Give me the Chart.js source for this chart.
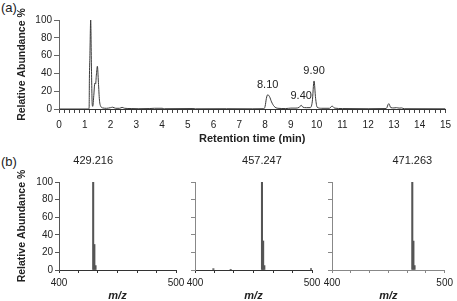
<!DOCTYPE html>
<html>
<head>
<meta charset="UTF-8" />
<title>LC-MS chromatogram</title>
<script src="https://cdn.jsdelivr.net/npm/chart.js"></script>
<style>
  body { margin: 0; background: #fff; font-family: "Liberation Sans", Arial, sans-serif; }
  #wrap { position: relative; width: 457px; height: 301px; overflow: hidden; }
  canvas { position: absolute; }
  .tag { position: absolute; font-size: 13px; color: #222; }
</style>
</head>
<body>
<div id="wrap">
  <div class="tag" style="left:1px;top:0px;">(a)</div>
  <div class="tag" style="left:1px;top:154px;">(b)</div>
  <canvas id="chrom" width="457" height="150" style="left:0;top:0;"></canvas>
  <canvas id="ms1" width="200" height="151" style="left:0;top:150px;"></canvas>
  <canvas id="ms2" width="160" height="151" style="left:170px;top:150px;"></canvas>
  <canvas id="ms3" width="147" height="151" style="left:310px;top:150px;"></canvas>
</div>

<script>
// chromatogram (retention time in min, relative abundance %)
const rtTimes = [0, 1.15, 1.17, 1.18, 1.2, 1.23, 1.26, 1.29, 1.31, 1.35, 1.39, 1.42, 1.45, 1.49, 1.53, 1.57, 1.62,
  1.7, 1.85, 2.0, 2.08, 2.2, 2.35, 2.45, 2.55, 2.8, 3.1, 3.5, 3.7, 4.0, 4.1, 5.2, 5.3, 6.5, 7.5,
  7.95, 8.0, 8.05, 8.1, 8.17, 8.25, 8.35, 8.5, 8.8, 9.0, 9.2, 9.33, 9.4, 9.47, 9.6, 9.75, 9.83, 9.9, 9.96,
  10.02, 10.2, 10.5, 10.6, 10.7, 11.0, 12.0, 12.7, 12.8, 12.88, 13.0, 13.1, 13.2, 13.3, 13.4, 15];
const rtAbund = [0, 0, 2, 34, 60, 100, 45, 5, 3, 15, 29, 28, 38, 48, 30, 10, 3,
  1.2, 0.8, 1.5, 2, 0.8, 0.8, 1.8, 0.8, 0.5, 0.3, 0.5, 0.8, 0.8, 0.3, 0.5, 0.2, 0.3, 0.2,
  0.3, 3, 12, 16, 14, 8, 3, 0.8, 0.5, 1, 1, 2, 4.2, 2, 1.5, 1.5, 8, 31.5, 12,
  2, 0.8, 0.8, 3.3, 1, 0.5, 0.3, 0.5, 6, 1.5, 1.2, 1.5, 1, 1.2, 0.3, 0.2];
const peakTimes = [8.10, 9.40, 9.90];

// mass spectra (m/z, relative abundance %)
const ms1Mz = [429.216, 430.22, 431.22];
const ms1Int = [100, 29, 5];
const ms2Mz = [457.247, 458.25, 459.25, 415.7, 430.5, 499.2];
const ms2Int = [100, 33, 5, 1.5, 0.8, 1.5];
const ms3Mz = [471.263, 472.27, 473.27];
const ms3Int = [100, 33, 5];

const FONT = '"Liberation Sans", Arial, sans-serif';
const TXT = '#222';

function labelPlugin(texts, xs, gap, size) {
  return {
    id: 'peakLabels',
    afterDatasetsDraw(chart) {
      const ctx = chart.ctx;
      const data = chart.data.datasets[0].data;
      const xs_ = chart.scales.x, ys = chart.scales.y;
      ctx.save();
      ctx.font = size + 'px ' + FONT;
      ctx.fillStyle = TXT;
      ctx.textAlign = 'center';
      ctx.textBaseline = 'bottom';
      xs.forEach((t, i) => {
        let top = 0;
        data.forEach(p => { if (Math.abs(p.x - t) < 0.12 && p.y > top) top = p.y; });
        ctx.fillText(texts[i], xs_.getPixelForValue(t), ys.getPixelForValue(top) - gap);
      });
      ctx.restore();
    }
  };
}

new Chart(document.getElementById('chrom'), {
  type: 'line',
  data: {
    datasets: [{
      data: rtTimes.map((t, i) => ({ x: t, y: rtAbund[i] })),
      borderColor: '#3a3a3a',
      borderWidth: 1,
      pointRadius: 0,
      cubicInterpolationMode: 'monotone'
    }]
  },
  options: {
    responsive: false,
    animation: false,
    devicePixelRatio: 1,
    layout: { padding: { top: 20, right: 11, left: 0, bottom: 0 } },
    plugins: { legend: { display: false }, tooltip: { enabled: false } },
    scales: {
      x: {
        type: 'linear', min: 0, max: 15,
        afterBuildTicks: s => { s.ticks = []; for (let i = 0; i <= 75; i++) s.ticks.push({ value: i / 5 }); },
        afterFit: s => { s.height = 41; },
        border: { display: true, color: '#333' },
        grid: { drawOnChartArea: false, tickLength: 4, color: '#444' },
        ticks: { autoSkip: false, maxRotation: 0, padding: 6, color: TXT, font: { family: FONT, size: 10 },
          callback: v => Number.isInteger(v) ? v : '' },
        title: { display: true, text: 'Retention time (min)', color: TXT, padding: { top: 0, bottom: 4 },
          font: { family: FONT, size: 11, weight: 'bold' } }
      },
      y: {
        min: 0, max: 100,
        afterFit: s => { s.width = 59; },
        border: { display: true, color: '#666' },
        grid: { drawOnChartArea: false, tickLength: 5, color: '#666' },
        ticks: { stepSize: 20, padding: 2, color: TXT, font: { family: FONT, size: 10 } },
        title: { display: true, text: 'Relative Abundance %', color: TXT, padding: { top: 16, bottom: 0 },
          font: { family: FONT, size: 10.5, weight: 'bold' } }
      }
    }
  },
  plugins: [labelPlugin(peakTimes.map(t => t.toFixed(2)), peakTimes, 4, 11)]
});

function spectrum(id, mz, inten, opts) {
  new Chart(document.getElementById(id), {
    type: 'bar',
    data: {
      datasets: [{
        data: mz.map((m, i) => ({ x: m, y: inten[i] })),
        backgroundColor: '#555',
        barThickness: 1.4
      }]
    },
    options: {
      responsive: false,
      animation: false,
      devicePixelRatio: 1,
      layout: { padding: { top: 32, right: opts.right, left: 0, bottom: 0 } },
      plugins: { legend: { display: false }, tooltip: { enabled: false } },
      scales: {
        x: {
          type: 'linear', min: 400, max: 500, offset: false,
          afterBuildTicks: s => { s.ticks = []; for (let i = 0; i <= 6; i++) s.ticks.push({ value: 400 + i * 100 / 6 }); },
          afterFit: s => { s.height = 31; },
          border: { display: true, color: opts.xAxis },
          grid: { drawOnChartArea: false, offset: false, tickLength: 3, color: opts.xAxis },
          ticks: { autoSkip: false, maxRotation: 0, padding: 4, color: TXT, font: { family: FONT, size: 10 },
            callback: v => (v === 400 || v === 500) ? v : '' },
          title: { display: true, text: 'm/z', color: TXT, padding: { top: 0, bottom: 0 },
            font: { family: FONT, size: 11, weight: 'bold', style: 'italic', lineHeight: 1 } }
        },
        y: {
          min: 0, max: 100,
          afterFit: s => { s.width = opts.yWidth; },
          border: { display: true, color: opts.yAxis },
          grid: { drawOnChartArea: false, tickLength: 4, color: opts.yAxis },
          ticks: { stepSize: 20, padding: 2, color: TXT, font: { family: FONT, size: 10 },
            callback: v => opts.yLabels ? v : '' },
          title: { display: opts.yLabels, text: 'Relative Abundance %', color: TXT, padding: { top: 16, bottom: 0 },
            font: { family: FONT, size: 10.5, weight: 'bold' } }
        }
      }
    },
    plugins: [labelPlugin([mz[0].toFixed(3)], [mz[0]], 16, 11)]
  });
}

spectrum('ms1', ms1Mz, ms1Int, { right: 24, yWidth: 59, yLabels: true, xAxis: '#333', yAxis: '#555' });
spectrum('ms2', ms2Mz, ms2Int, { right: 18, yWidth: 25, yLabels: false, xAxis: '#333', yAxis: '#888' });
spectrum('ms3', ms3Mz, ms3Int, { right: 9, yWidth: 22, yLabels: false, xAxis: '#888', yAxis: '#888' });
</script>
</body>
</html>
